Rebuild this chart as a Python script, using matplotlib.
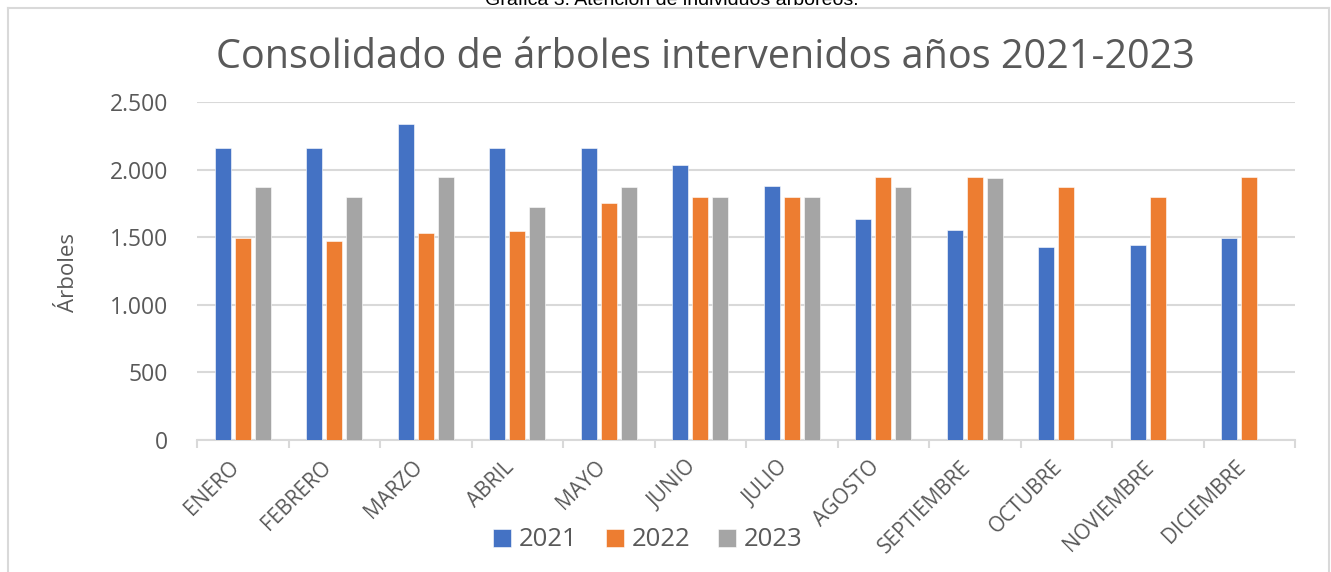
import numpy as np
import matplotlib
matplotlib.use('Agg')
import matplotlib.pyplot as plt
import matplotlib.transforms as mtransforms
from matplotlib.lines import Line2D

months = ['ENERO', 'FEBRERO', 'MARZO', 'ABRIL', 'MAYO', 'JUNIO', 'JULIO',
          'AGOSTO', 'SEPTIEMBRE', 'OCTUBRE', 'NOVIEMBRE', 'DICIEMBRE']
years = ['2021', '2022', '2023']
v2021 = [2160, 2160, 2335, 2160, 2160, 2032, 1876, 1632, 1556, 1430, 1440, 1494]
v2022 = [1494, 1474, 1529, 1548, 1751, 1795, 1795, 1948, 1948, 1869, 1795, 1948]
v2023 = [1869, 1795, 1948, 1721, 1869, 1795, 1795, 1869, 1940, np.nan, np.nan, np.nan]
colors = ['#4472C4', '#ED7D31', '#A5A5A5']

W, H = 1331, 572
fig = plt.figure(figsize=(W / 100, H / 100), dpi=100)
fig.patch.set_facecolor('white')
txt = '#595959'
grid = '#D9D9D9'

# outer chart frame (bottom is cut off in the source)
for xs, ys in [([8/W, 8/W], [0, 1 - 7.5/H]), ([1329/W, 1329/W], [0, 1 - 7.5/H]),
               ([8/W, 1329/W], [1 - 7.5/H, 1 - 7.5/H])]:
    fig.add_artist(Line2D(xs, ys, color=grid, lw=1.5, transform=fig.transFigure))

# caption above the chart, mostly cropped like in the source
fig.text(0.505, 1 - 5/H, 'Gráfica 3. Atención de individuos arbóreos.',
         ha='center', va='baseline', fontsize=14, family='Liberation Sans', color='black')

ax = fig.add_axes([197/W, 1 - 440/H, (1295 - 197)/W, (440 - 102)/H])
x = np.arange(len(months))
bw = 0.175
off = 0.22
for i, (vals, c, lab) in enumerate(zip([v2021, v2022, v2023], colors, years)):
    ax.bar(x + (i - 1) * off, vals, width=bw, color=c, label=lab,
           edgecolor='white', linewidth=0.4, zorder=3)

ax.set_xlim(-0.5, len(months) - 0.5)
ax.set_ylim(0, 2500)
ax.set_yticks([0, 500, 1000, 1500, 2000, 2500])
ax.set_yticklabels(['0', '500', '1.000', '1.500', '2.000', '2.500'])
ax.yaxis.grid(True, color=grid, lw=1.5, zorder=0)
ax.tick_params(axis='y', length=0, pad=21, labelsize=16.5, labelcolor=txt)
for lbl in ax.get_yticklabels():
    lbl.set_family('Open Sans')

ax.set_xticks(x)
ax.set_xticklabels(months, rotation=45, ha='right', rotation_mode='anchor',
                   family='Open Sans', fontsize=15, color=txt)
ax.tick_params(axis='x', which='major', length=0, pad=12)
shift = mtransforms.ScaledTranslation(-14 / 100, 0, fig.dpi_scale_trans)
for lbl in ax.get_xticklabels():
    lbl.set_transform(lbl.get_transform() + shift)
ax.set_xticks(np.arange(-0.5, len(months)), minor=True)
ax.tick_params(axis='x', which='minor', length=6, width=1.5, color=grid, direction='out')

for s in ['top', 'right', 'left']:
    ax.spines[s].set_visible(False)
ax.spines['bottom'].set_color(grid)
ax.spines['bottom'].set_linewidth(1.5)

fig.text(69/W, 1 - 272/H, 'Árboles', rotation=90, ha='center', va='center',
         family='Open Sans', fontsize=16, color=txt)
fig.text(705/W, 1 - 58/H, 'Consolidado de árboles intervenidos años 2021-2023',
         ha='center', va='center', family='Open Sans', fontsize=28.5, color=txt)

leg = fig.legend(loc='center', bbox_to_anchor=(648/W, 1 - 540/H), ncol=3, frameon=False,
                 handlelength=0.7, handleheight=0.7, handletextpad=0.3, columnspacing=1.1,
                 prop={'family': 'Open Sans', 'size': 18.5})
for t in leg.get_texts():
    t.set_color(txt)

fig.savefig('out.png', dpi=100)
